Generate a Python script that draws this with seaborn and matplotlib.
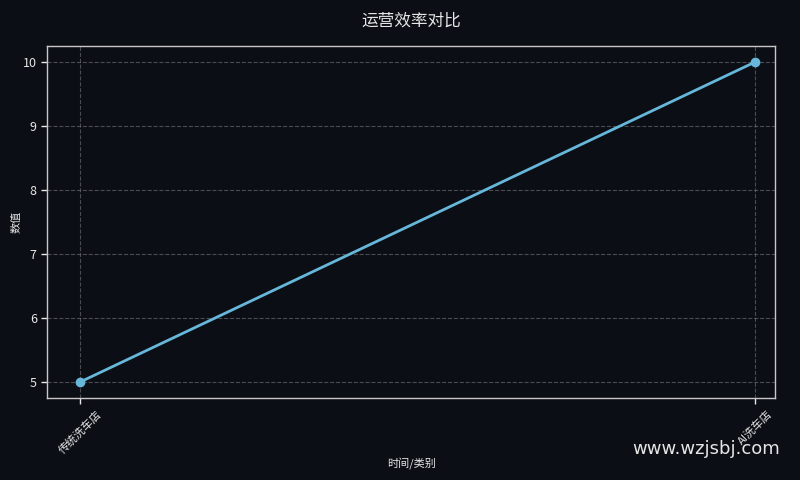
import matplotlib
matplotlib.use('Agg')
import matplotlib.pyplot as plt
import seaborn as sns
import pandas as pd

# data
categories = ['传统洗车店', 'AI洗车店']
values = [5, 10]

BG = '#0b0e14'
LINE = '#66b7d9'
FG = '#e6e6e6'

sns.set_theme(style='dark')
plt.rcParams['font.family'] = ['Noto Sans CJK SC', 'DejaVu Sans']
plt.rcParams['axes.unicode_minus'] = False

df = pd.DataFrame({'类别': categories, '数值': values})

fig, ax = plt.subplots(figsize=(8, 4.8), dpi=100)
fig.patch.set_facecolor(BG)
ax.set_facecolor(BG)

sns.lineplot(data=df, x='类别', y='数值', ax=ax, color=LINE, lw=2,
             marker='o', markersize=7, markeredgewidth=0, sort=False)

ax.set_xlim(-0.049, 1.03)
ax.set_title('运营效率对比', color=FG, fontsize=12, pad=15)
ax.set_xlabel('时间/类别', color=FG, fontsize=8, labelpad=1)
ax.set_ylabel('数值', color=FG, fontsize=8, labelpad=1)
ax.tick_params(colors=FG, length=4, width=1, bottom=True, left=True)
ax.tick_params(axis='y', labelsize=9)
ax.tick_params(axis='x', labelsize=8)
for lab in ax.get_xticklabels():
    lab.set_rotation(45)
    lab.set_ha('center')
ax.grid(True, linestyle='--', color='#8a8a8a', alpha=0.5, lw=0.8)
for s in ax.spines.values():
    s.set_color('#c8c8c8')
    s.set_linewidth(1)

fig.subplots_adjust(left=0.059, right=0.969, top=0.904, bottom=0.171)
fig.text(0.975, 0.045, 'www.wzjsbj.com', color=FG, fontsize=13,
         ha='right', va='bottom', family=['DejaVu Sans'])
fig.savefig('out.png', dpi=100, facecolor=BG)
